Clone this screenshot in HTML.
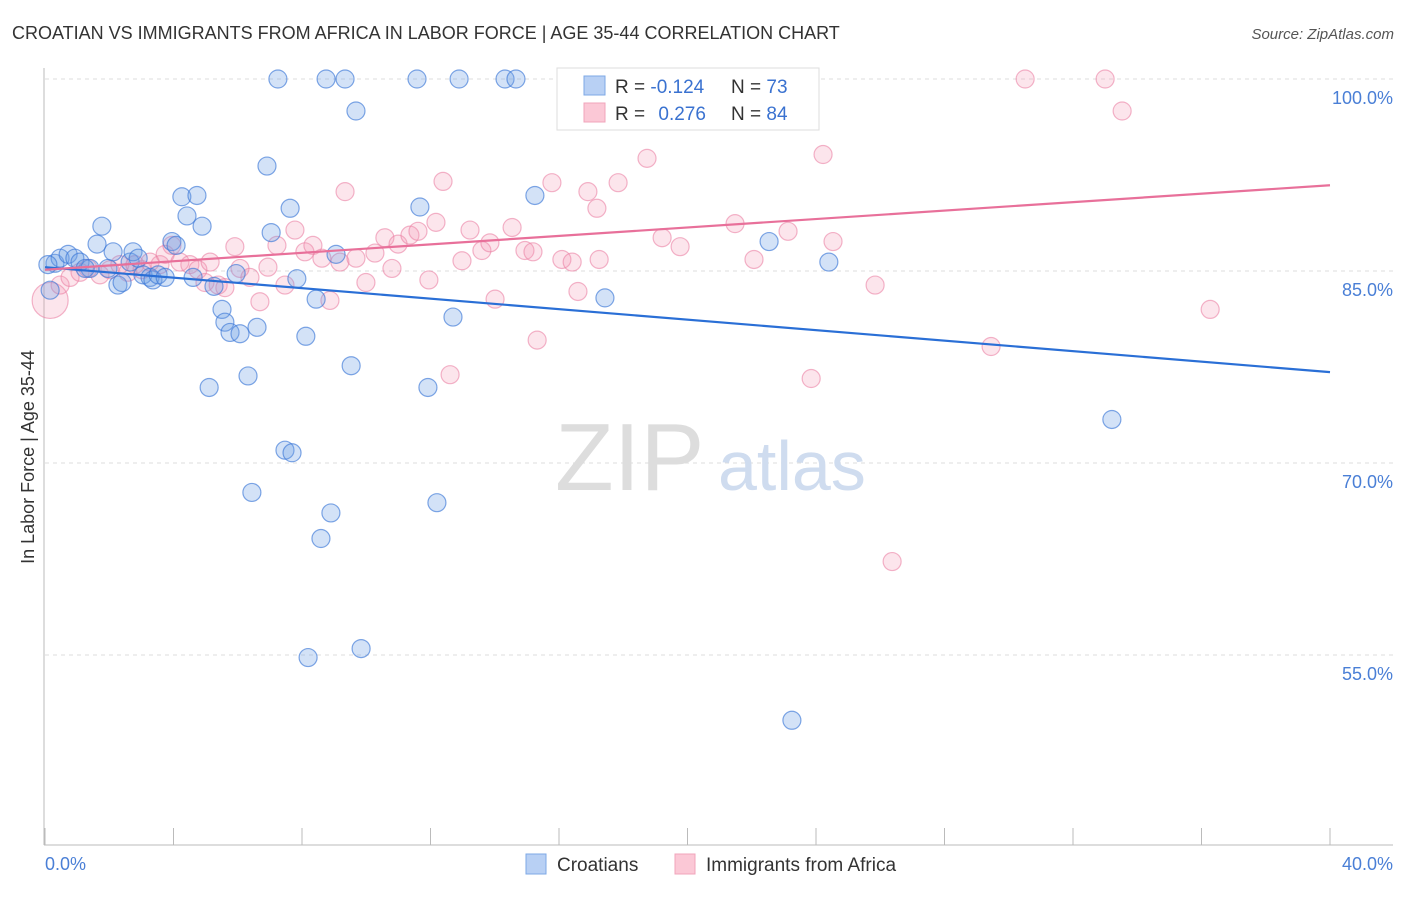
<!DOCTYPE html>
<html><head><meta charset="utf-8"><style>
body{margin:0;background:#fff;font-family:"Liberation Sans",sans-serif}
svg text{font-family:"Liberation Sans",sans-serif}
</style></head><body>
<svg id="c" width="1406" height="892" xmlns="http://www.w3.org/2000/svg">
<text x="12" y="39" font-size="18" fill="#333">CROATIAN VS IMMIGRANTS FROM AFRICA IN LABOR FORCE | AGE 35-44 CORRELATION CHART</text>
<text x="1394" y="39" font-size="15" fill="#555" font-style="italic" text-anchor="end">Source: ZipAtlas.com</text>
<text transform="translate(34,457) rotate(-90)" font-size="18" fill="#333" text-anchor="middle">In Labor Force | Age 35-44</text>
<g id="grid"></g>
<text x="555" y="490" font-size="96" fill="#ddd" font-family="Liberation Serif">ZIP</text>
<text x="718" y="490" font-size="70" fill="#cfdcef">atlas</text>
<g id="pts"></g>
<g id="lines"></g>
<g>
<rect x="557" y="68" width="262" height="62" fill="#fff" stroke="#ddd"/>
<rect x="584" y="76" width="21" height="19" fill="#b8d0f4" stroke="#7ea8e6"/>
<rect x="584" y="103" width="21" height="19" fill="#fbc8d6" stroke="#f0a4bb"/>
<text x="615" y="93" font-size="19" fill="#333">R = <tspan fill="#3a72d0">-0.124</tspan></text>
<text x="731" y="93" font-size="19" fill="#333">N = <tspan fill="#3a72d0">73</tspan></text>
<text x="615" y="120" font-size="19" fill="#333">R = <tspan fill="#3a72d0" dx="8">0.276</tspan></text>
<text x="731" y="120" font-size="19" fill="#333">N = <tspan fill="#3a72d0">84</tspan></text>
</g>
<g>
<rect x="526" y="854" width="20" height="20" fill="#b8d0f4" stroke="#7ea8e6"/>
<text x="557" y="871" font-size="19" fill="#333">Croatians</text>
<rect x="675" y="854" width="20" height="20" fill="#fbc8d6" stroke="#f0a4bb"/>
<text x="706" y="871" font-size="19" fill="#333">Immigrants from Africa</text>
</g>
</svg>
<script>
const blueX=[0.31,0.47,0.72,0.93,1.09,1.40,1.62,1.77,1.96,2.12,2.27,2.40,2.65,2.74,2.90,3.05,3.27,3.36,3.52,3.74,3.95,4.08,4.26,4.42,4.61,4.73,4.89,5.26,5.51,5.60,5.76,6.07,5.95,6.32,6.44,6.60,5.11,6.91,7.04,7.25,7.47,7.69,7.63,7.84,8.12,8.19,8.44,8.59,8.75,8.90,9.06,9.34,9.53,9.68,9.84,11.58,11.67,11.92,12.20,12.70,12.89,14.32,14.66,15.25,16.78,17.43,22.54,23.25,24.40,33.21,0.16,1.25,0.09];
const blueY=[85.6,86.0,86.3,86.0,85.7,85.2,87.1,88.5,85.2,86.5,83.9,84.1,85.7,86.5,86.0,84.7,84.5,84.3,84.7,84.5,87.3,87.0,90.8,89.3,84.5,90.9,88.5,83.8,82.0,81.0,80.2,80.1,84.8,76.8,67.7,80.6,75.9,93.2,88.0,100,71.0,70.8,89.9,84.4,79.9,54.8,82.8,64.1,100,66.1,86.3,100,77.6,97.5,55.5,100,90.0,75.9,66.9,81.4,100,100,100,90.9,100,82.9,87.3,49.9,85.7,73.4,83.5,85.2,85.5];
const pinkX=[0.16,0.47,0.78,1.09,1.34,1.71,2.02,2.33,2.58,2.80,3.02,3.27,3.58,3.74,3.95,4.20,4.51,4.76,4.98,5.14,5.39,5.60,5.91,6.07,6.38,6.69,6.94,7.22,7.47,7.78,8.09,8.34,8.62,8.87,9.18,9.34,9.68,9.99,10.27,10.58,10.80,10.99,11.36,11.61,11.95,12.17,12.39,12.61,12.98,13.23,13.60,13.85,14.01,14.54,14.94,15.19,15.32,15.78,16.09,16.41,16.59,16.90,17.18,17.25,17.84,18.74,19.21,19.77,21.48,22.07,23.13,23.85,24.22,24.53,25.84,26.37,29.45,30.51,33.00,33.53,36.27,20.30,19.52];
const pinkY=[82.7,83.9,84.5,84.9,85.2,84.7,85.1,85.5,84.9,85.5,85.1,85.7,85.5,86.3,87.0,85.7,85.5,85.1,84.1,85.7,83.9,83.7,86.9,85.2,84.5,82.6,85.3,87.0,83.9,88.2,86.5,87.0,86.0,82.7,85.7,91.2,86.0,84.1,86.4,87.6,85.2,87.1,87.8,88.1,84.3,88.8,92.0,76.9,85.8,88.2,86.6,87.2,82.8,88.4,86.6,86.5,79.6,91.9,85.9,85.7,83.4,91.2,89.9,85.9,91.9,93.8,87.6,86.9,88.7,85.9,88.1,76.6,94.1,87.3,83.9,62.3,79.1,100,100,97.5,82.0,100,100];
const blueTrend=[85.3,77.1];
const pinkTrend=[85.1,91.7];
const yTicks=[100,85,70,55];
const yTickLabels=["100.0%","85.0%","70.0%","55.0%"];
const xTickVals=[0,4,8,12,16,20,24,28,32,36,40];
const NS="http://www.w3.org/2000/svg";
const xs=v=>45+v*32.125;
const ys=v=>79+(100-v)*12.8;
function mk(tag,attrs,parent){const e=document.createElementNS(NS,tag);for(const k in attrs)e.setAttribute(k,attrs[k]);parent.appendChild(e);return e;}
const grid=document.getElementById('grid');
yTicks.forEach((t,i)=>{
  const l=mk('line',{x1:45,x2:1393,y1:ys(t),y2:ys(t),stroke:'#ddd','stroke-dasharray':'4,4'},grid);
  
  
  const tx=mk('text',{x:1393,y:ys(t)+25,'font-size':18,fill:'#4a7fd6','text-anchor':'end'},grid);
  tx.textContent=yTickLabels[i];
  
  
});
let ax=mk('line',{x1:44,x2:44,y1:68,y2:845,stroke:'#bbb'},grid);


ax=mk('line',{x1:44,x2:1393,y1:845,y2:845,stroke:'#bbb'},grid);


xTickVals.forEach(v=>{
  const t=mk('line',{x1:xs(v),x2:xs(v),y1:828,y2:845,stroke:'#bbb'},grid);
  
  
});
let xl=mk('text',{x:45,y:870,'font-size':18,fill:'#4a7fd6'},grid);xl.textContent='0.0%';


xl=mk('text',{x:1393,y:870,'font-size':18,fill:'#4a7fd6','text-anchor':'end'},grid);xl.textContent='40.0%';


const pts=document.getElementById('pts');
pinkX.forEach((x,i)=>{
  const c=mk('circle',{cx:xs(x),cy:ys(pinkY[i]),r:i===0?18:9,fill:'rgba(245,150,180,0.25)',stroke:'rgba(235,130,165,0.6)','stroke-width':1.2},pts);
  
  
});
blueX.forEach((x,i)=>{
  const c=mk('circle',{cx:xs(x),cy:ys(blueY[i]),r:9,fill:'rgba(110,160,230,0.3)',stroke:'rgba(60,120,215,0.65)','stroke-width':1.2},pts);
  
  
});
const lines=document.getElementById('lines');
let tl=mk('line',{x1:xs(0),y1:ys(blueTrend[0]),x2:xs(40),y2:ys(blueTrend[1]),stroke:'#2a6fd6','stroke-width':2.2},lines);


tl=mk('line',{x1:xs(0),y1:ys(pinkTrend[0]),x2:xs(40),y2:ys(pinkTrend[1]),stroke:'#e8709a','stroke-width':2.2},lines);


</script>
</body></html>
